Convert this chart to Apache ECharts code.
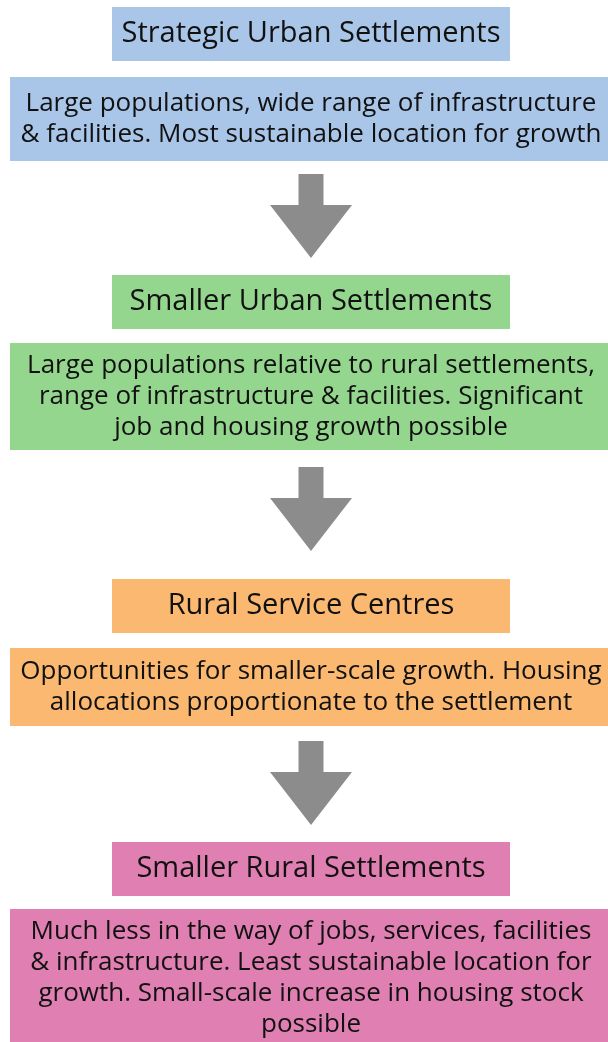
<!DOCTYPE html>
<html>
<head>
<meta charset="utf-8">
<script src="https://cdn.jsdelivr.net/npm/echarts@6/dist/echarts.min.js"></script>
<style>
html, body { margin: 0; padding: 0; background: #fff; }
#chart { width: 608px; height: 1042px; }
</style>
</head>
<body>
<div id="chart"></div>
<script>
// settlement hierarchy, top to bottom
var tierTitles = [
    'Strategic Urban Settlements',
    'Smaller Urban Settlements',
    'Rural Service Centres',
    'Smaller Rural Settlements'
];
var tierDescriptions = [
    'Large populations, wide range of infrastructure\n& facilities. Most sustainable location for growth',
    'Large populations relative to rural settlements,\nrange of infrastructure & facilities. Significant\njob and housing growth possible',
    'Opportunities for smaller-scale growth. Housing\nallocations proportionate to the settlement',
    'Much less in the way of jobs, services, facilities\n& infrastructure. Least sustainable location for\ngrowth. Small-scale increase in housing stock\npossible'
];
var tierColors = ['#a9c6e8', '#94d68e', '#fab870', '#e07fb1'];

// page layout, in px
var layout = {
    titleTop: [7, 275, 579, 842],
    titleHeight: 54,
    titleLeft: 112,
    titleRight: 510,
    descTop: [77, 343, 648, 909],
    descBottom: [161, 450, 726, 1048],
    descLeft: 10,
    descRight: 620,
    arrowTop: [174, 467, 741],
    arrowLen: 84,
    arrowShaft: 25,
    arrowHead: 82,
    arrowHeadLen: 53,
    centerX: 311
};

var chart = echarts.init(document.getElementById('chart'));

function renderTier(params, api) {
    var i = params.dataIndex;
    var L = layout;
    var children = [];

    function rect(x0, y0, x1, y1, color) {
        var a = api.coord([x0, y0]), b = api.coord([x1, y1]);
        return {
            type: 'rect',
            shape: { x: a[0], y: a[1], width: b[0] - a[0], height: b[1] - a[1] },
            style: { fill: color }
        };
    }
    function label(text, y, size, lh) {
        var p = api.coord([L.centerX, y]);
        return {
            type: 'text',
            style: {
                text: text, x: p[0], y: p[1],
                align: 'center', verticalAlign: 'middle',
                fontFamily: 'Open Sans', fontSize: size, lineHeight: lh,
                fill: '#111'
            }
        };
    }

    var tTop = L.titleTop[i], tBot = tTop + L.titleHeight;
    children.push(rect(L.titleLeft, tTop, L.titleRight, tBot, tierColors[i]));
    children.push(label(tierTitles[i], (tTop + tBot) / 2, 29, 34));

    var dTop = L.descTop[i], dBot = L.descBottom[i];
    children.push(rect(L.descLeft, dTop, L.descRight, dBot, tierColors[i]));
    children.push(label(tierDescriptions[i], (dTop + dBot) / 2, 26, 31));

    if (i < L.arrowTop.length) {
        var y0 = L.arrowTop[i], yh = y0 + L.arrowLen - L.arrowHeadLen, y1 = y0 + L.arrowLen;
        var c = L.centerX, s = L.arrowShaft / 2, h = L.arrowHead / 2;
        var pts = [
            [c - s, y0], [c + s, y0], [c + s, yh], [c + h, yh],
            [c, y1], [c - h, yh], [c - s, yh]
        ].map(function (p) { return api.coord(p); });
        children.push({
            type: 'polygon',
            shape: { points: pts },
            style: { fill: '#8c8c8c' }
        });
    }
    return { type: 'group', children: children };
}

chart.setOption({
    animation: false,
    grid: { left: 0, right: 0, top: 0, bottom: 0 },
    xAxis: { type: 'value', min: 0, max: 608, show: false },
    yAxis: { type: 'value', min: 0, max: 1042, inverse: true, show: false },
    series: [{
        type: 'custom',
        clip: false,
        renderItem: renderTier,
        data: tierTitles.map(function (t, i) { return [i, i]; })
    }]
});
</script>
</body>
</html>
